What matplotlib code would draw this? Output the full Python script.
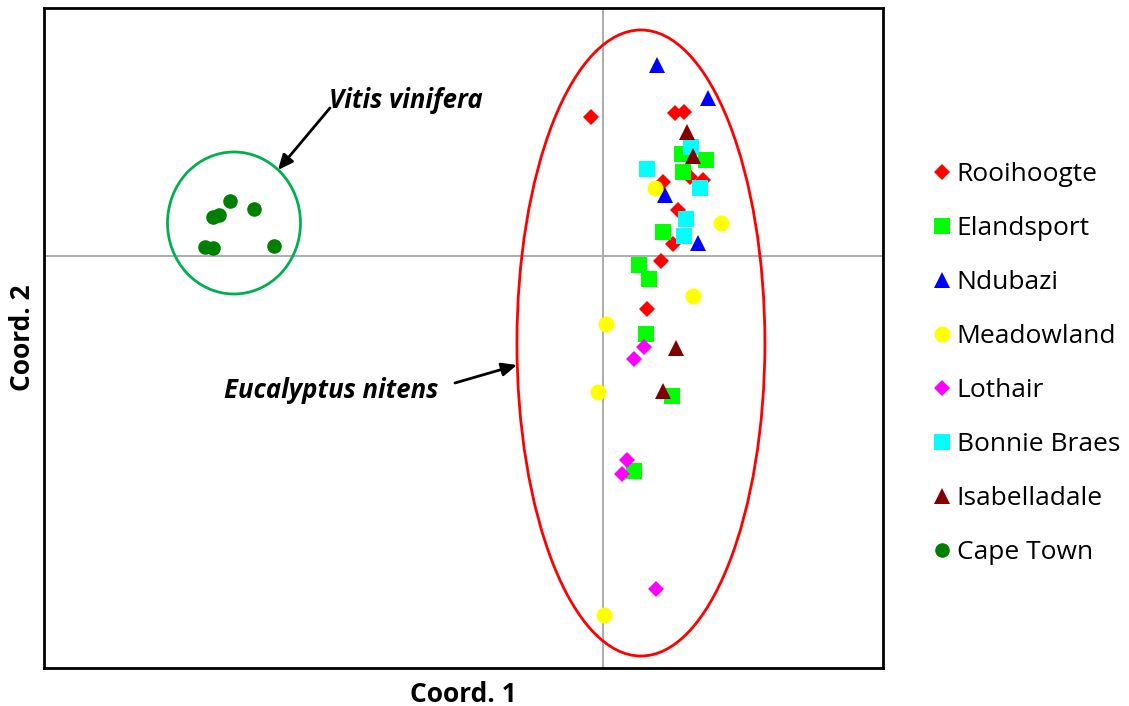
#! /usr/bin/env python3
import numpy as np
import matplotlib
matplotlib.use('Agg')
from matplotlib import pyplot as plt
from matplotlib.patches import Ellipse
from matplotlib.lines import Line2D

plt.rcParams['font.family'] = ['Open Sans', 'DejaVu Sans']

# PCoA coordinates per site
rooihoogte_x = [-0.12, 0.72, 0.81, 0.60, 0.87, 1.00, 0.75, 0.70, 0.58, 0.44]
rooihoogte_y = [1.39, 1.43, 1.44, 0.74, 0.79, 0.76, 0.46, 0.12, -0.05, -0.53]

elandsport_x = [0.79, 1.03, 0.80, 0.60, 0.36, 0.46, 0.43, 0.69, 0.31]
elandsport_y = [1.02, 0.96, 0.84, 0.24, -0.09, -0.23, -0.78, -1.40, -2.15]

ndubazi_x = [0.54, 1.05, 0.62, 0.95]
ndubazi_y = [1.91, 1.58, 0.61, 0.13]

meadowland_x = [0.52, 1.18, 0.90, 0.03, -0.05, 0.01]
meadowland_y = [0.68, 0.33, -0.40, -0.68, -1.36, -3.59]

lothair_x = [0.41, 0.31, 0.24, 0.19, 0.53]
lothair_y = [-0.91, -1.03, -2.04, -2.18, -3.33]

bonnie_x = [0.88, 0.44, 0.97, 0.83, 0.81]
bonnie_y = [1.09, 0.87, 0.68, 0.37, 0.20]

isabella_x = [0.84, 0.90, 0.73, 0.60]
isabella_y = [1.24, 1.00, -0.92, -1.35]

capetown_x = [-3.73, -3.49, -3.90, -3.84, -3.98, -3.90, -3.29]
capetown_y = [0.55, 0.47, 0.39, 0.41, 0.09, 0.08, 0.10]

series = [
    ('Rooihoogte', rooihoogte_x, rooihoogte_y, 'D', '#FF0000', 8.2),
    ('Elandsport', elandsport_x, elandsport_y, 's', '#00FF00', 11.5),
    ('Ndubazi', ndubazi_x, ndubazi_y, '^', '#0000FF', 12),
    ('Meadowland', meadowland_x, meadowland_y, 'o', '#FFFF00', 11.5),
    ('Lothair', lothair_x, lothair_y, 'D', '#FF00FF', 8.2),
    ('Bonnie Braes', bonnie_x, bonnie_y, 's', '#00FFFF', 11.5),
    ('Isabelladale', isabella_x, isabella_y, '^', '#800000', 12),
    ('Cape Town', capetown_x, capetown_y, 'o', '#007F00', 10.5),
]

fig = plt.figure(figsize=(11.29, 7.06), dpi=100)
ax = fig.add_axes([0.039, 0.0538, 0.743, 0.9349])

ax.axhline(0, color='#A6A6A6', lw=1.3, zorder=1)
ax.axvline(0, color='#A6A6A6', lw=1.3, zorder=1)

handles = []
for name, xs, ys, mk, col, ms in series:
    ax.plot(xs, ys, linestyle='none', marker=mk, color=col, markersize=ms,
            markeredgewidth=0, zorder=3)
    handles.append(Line2D([], [], linestyle='none', marker=mk, color=col,
                          markersize=ms, markeredgewidth=0, label=name))

# group outlines
ax.add_patch(Ellipse((-3.69, 0.33), 1.33, 1.42, fill=False,
                     edgecolor='#00B050', lw=2, zorder=2))
ax.add_patch(Ellipse((0.38, -0.87), 2.48, 6.26, fill=False,
                     edgecolor='#FF0000', lw=2, zorder=2))

arrow = dict(arrowstyle='-|>,head_length=0.9,head_width=0.4',
             color='black', lw=2, shrinkA=0, shrinkB=0)
ax.annotate('', xy=(-3.25, 0.86), xytext=(-2.73, 1.48), arrowprops=arrow)
ax.text(-1.97, 1.55, 'Vitis vinifera', fontsize=18.5, fontweight='bold',
        style='italic', ha='center', va='center')
ax.annotate('', xy=(-0.86, -1.09), xytext=(-1.48, -1.27), arrowprops=arrow)
ax.text(-2.72, -1.34, 'Eucalyptus nitens', fontsize=18.5, fontweight='bold',
        style='italic', ha='center', va='center')

ax.set_xlim(-5.59, 2.80)
ax.set_ylim(-4.12, 2.48)
ax.set_xticks([])
ax.set_yticks([])
for sp in ax.spines.values():
    sp.set_linewidth(2)

ax.set_xlabel('Coord. 1', fontsize=19, fontweight='bold', labelpad=9)
ax.set_ylabel('Coord. 2', fontsize=19, fontweight='bold', labelpad=6)

fig.legend(handles=handles, loc='upper left', bbox_to_anchor=(0.803, 0.804),
           frameon=False, fontsize=19, labelspacing=1.1, handletextpad=0.15,
           handlelength=0.85)

fig.savefig('out.png', dpi=100)
